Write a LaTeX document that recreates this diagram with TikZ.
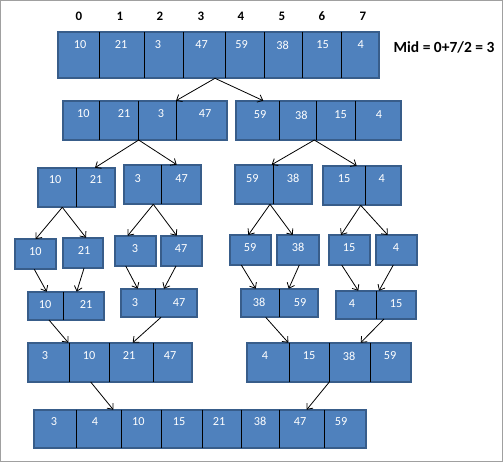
\documentclass[tikz,border=0pt]{standalone}
\usepackage{fontspec}
\setmainfont{Carlito}
\usetikzlibrary{fit,arrows.meta}
\definecolor{boxfill}{HTML}{4F81BD}
\definecolor{boxborder}{HTML}{385D8A}
\definecolor{framegrey}{HTML}{A0A0A0}
\newcommand\mydividers[2]{\foreach \xx in {#2} \draw[divline] (#1.north -| \xx,0) -- (#1.south -| \xx,0);}
\begin{document}
\begin{tikzpicture}[x=0.75pt,y=-0.75pt,
  box/.style={draw=boxborder, fill=boxfill, line width=1.4pt, inner sep=0pt, outer sep=0pt},
  divline/.style={draw=black, line width=0.8pt},
  num/.style={text=white, font=\fontsize{9.2}{10}\selectfont, inner sep=0pt},
  idx/.style={text=black, font=\fontsize{9.7}{10}\selectfont\bfseries, inner sep=0pt},
  arr/.style={draw=black, line width=0.6pt, -{Straight Barb[length=3.5pt,width=6pt]}}]
\useasboundingbox (0,0) rectangle (503,462);
\draw[framegrey, line width=1pt] (0.7,0.7) rectangle (502.3,461.3);

% row 1
\node[box, fit={(57.7,31.7) (379.3,78.3)}] (r1) {};
\mydividers{r1}{99.3,144.3,183.3,225.7,264.3,302.3,341.7}
\foreach \x/\t [count=\i] in {80/10,121/21,158/3,201.7/47,241.7/59,282.7/38,322.7/15,360.7/4}
  \node[num] (r1t\i) at (\x,45) {\t};
\foreach \x/\t [count=\i] in {79/0,120/1,160/2,201/3,241/4,282/5,322/6,363/7}
  \node[idx] (ix\i) at (\x,16) {\t};
\node[idx, font=\fontsize{11.6}{13}\selectfont\bfseries] (mid) at (444,47.7) {Mid = 0+7/2 = 3};

% row 2
\node[box, fit={(62.7,100.7) (227.3,140)}] (r2a) {};
\mydividers{r2a}{99.3,138.7,176.7}
\foreach \x/\t [count=\i] in {83.3/10,124/21,161/3,205/47}
  \node[num] (r2at\i) at (\x,113.3) {\t};
\node[box, fit={(236.3,100.7) (401,140)}] (r2b) {};
\mydividers{r2b}{279.3,316.7,355.7}
\foreach \x/\t [count=\i] in {260/59,301.3/38,340.7/15,379/4}
  \node[num] (r2bt\i) at (\x,115) {\t};

% row 3
\node[box, fit={(37.7,167.7) (115.3,207.3)}] (r3a) {};
\mydividers{r3a}{76.7}
\node[num] (r3at1) at (55,180) {10};
\node[num] (r3at2) at (96,180) {21};
\node[box, fit={(123.7,164.7) (201.3,204.3)}] (r3b) {};
\mydividers{r3b}{161.7}
\node[num] (r3bt1) at (137.7,179) {3};
\node[num] (r3bt2) at (181.7,179) {47};
\node[box, fit={(234.7,164.7) (312.3,204.3)}] (r3c) {};
\mydividers{r3c}{273.7}
\node[num] (r3ct1) at (252.3,178.3) {59};
\node[num] (r3ct2) at (293,178.3) {38};
\node[box, fit={(323.3,165.7) (401,205.3)}] (r3d) {};
\mydividers{r3d}{365.7}
\node[num] (r3dt1) at (344,178.3) {15};
\node[num] (r3dt2) at (381.7,178.3) {4};

% row 4
\node[box, fit={(14.7,239) (56,269.3)}] (r4a) {};
\node[num] (r4at) at (35.3,251.7) {10};
\node[box, fit={(62.7,237.7) (103.3,268.3)}] (r4b) {};
\node[num] (r4bt) at (84,251) {21};
\node[box, fit={(114.7,235.7) (156.3,266)}] (r4c) {};
\node[num] (r4ct) at (135,249) {3};
\node[box, fit={(160.7,235.7) (202.3,266)}] (r4d) {};
\node[num] (r4dt) at (181,249) {47};
\node[box, fit={(229.7,235) (271.3,265)}] (r4e) {};
\node[num] (r4et) at (250,247.7) {59};
\node[box, fit={(277.3,235) (319,265)}] (r4f) {};
\node[num] (r4ft) at (298,247.7) {38};
\node[box, fit={(328.7,235) (370,265)}] (r4g) {};
\node[num] (r4gt) at (349,247.7) {15};
\node[box, fit={(375.7,235) (417,265)}] (r4h) {};
\node[num] (r4ht) at (396,247.7) {4};

% row 5
\node[box, fit={(27.7,291.7) (104.3,320)}] (r5a) {};
\mydividers{r5a}{63.3}
\node[num] (r5at1) at (45,305) {10};
\node[num] (r5at2) at (86,305) {21};
\node[box, fit={(120.7,288.7) (197.3,317.3)}] (r5b) {};
\mydividers{r5b}{155.7}
\node[num] (r5bt1) at (135,302.7) {3};
\node[num] (r5bt2) at (179,302.7) {47};
\node[box, fit={(240.7,288.7) (318.3,317.3)}] (r5c) {};
\mydividers{r5c}{279.3}
\node[num] (r5ct1) at (259,302.7) {38};
\node[num] (r5ct2) at (300,302.7) {59};
\node[box, fit={(335.7,290.7) (416.3,319)}] (r5d) {};
\mydividers{r5d}{376.7}
\node[num] (r5dt1) at (352,304) {4};
\node[num] (r5dt2) at (396,304) {15};

% row 6
\node[box, fit={(27.7,342.7) (192.3,382)}] (r6a) {};
\mydividers{r6a}{69.3,109.3,153.3}
\foreach \x/\t [count=\i] in {45/3,89/10,129/21,170/47}
  \node[num] (r6at\i) at (\x,356) {\t};
\node[box, fit={(246.7,342.7) (411.3,382)}] (r6b) {};
\mydividers{r6b}{289.3,329.3,370.3}
\foreach \x/\t [count=\i] in {265/4,309/15,349/38,390/59}
  \node[num] (r6bt\i) at (\x,356) {\t};

% row 7
\node[box, fit={(33.7,409.7) (366.3,447.7)}] (r7) {};
\mydividers{r7}{76.7,121.3,161.7,202.3,241.3,279.3,324.3}
\foreach \x/\t [count=\i] in {54/3,95/4,138.3/10,179/15,219/21,260/38,300/47,341/59}
  \node[num] (r7t\i) at (\x,421.7) {\t};

% arrows
\draw[arr] (r1.south -| 215,0) -- (r2a.north -| 176,0);
\draw[arr] (r1.south -| 215,0) -- (r2b.north -| 263.3,0);
\draw[arr] (r2a.south -| 138.7,0) -- (r3a.north -| 95,0);
\draw[arr] (r2a.south -| 138.7,0) -- (r3b.north -| 176.7,0);
\draw[arr] (r2b.south -| 314.3,0) -- (r3c.north -| 271.7,0);
\draw[arr] (r2b.south -| 314.3,0) -- (r3d.north -| 356.7,0);
\draw[arr] (r3a.south -| 62.3,0) -- (r4a.north -| 35.7,0);
\draw[arr] (r3a.south -| 62.3,0) -- (r4b.north -| 86,0);
\draw[arr] (r3b.south -| 153.3,0) -- (r4c.north -| 127.7,0);
\draw[arr] (r3b.south -| 153.3,0) -- (r4d.north -| 176.7,0);
\draw[arr] (r3c.south -| 270,0) -- (r4e.north -| 248.3,0);
\draw[arr] (r3c.south -| 270,0) -- (r4f.north -| 292.7,0);
\draw[arr] (r3d.south -| 360.7,0) -- (r4g.north -| 341,0);
\draw[arr] (r3d.south -| 360.7,0) -- (r4h.north -| 387.7,0);
\draw[arr] (r4a.south -| 34.3,0) -- (r5a.north -| 46.7,0);
\draw[arr] (r4b.south -| 84,0) -- (r5a.north -| 76.7,0);
\draw[arr] (r4c.south -| 125.7,0) -- (r5b.north -| 137.7,0);
\draw[arr] (r4d.south -| 176,0) -- (r5b.north -| 164,0);
\draw[arr] (r4e.south -| 241.3,0) -- (r5c.north -| 255.7,0);
\draw[arr] (r4f.south -| 299.3,0) -- (r5c.north -| 288.7,0);
\draw[arr] (r4g.south -| 341.7,0) -- (r5d.north -| 358.3,0);
\draw[arr] (r4h.south -| 393.3,0) -- (r5d.north -| 379,0);
\draw[arr] (r5a.south -| 49,0) -- (r6a.north -| 68.3,0);
\draw[arr] (r5b.south -| 161,0) -- (r6a.north -| 132.7,0);
\draw[arr] (r5c.south -| 265.7,0) -- (r6b.north -| 288.3,0);
\draw[arr] (r5d.south -| 384,0) -- (r6b.north -| 360.7,0);
\draw[arr] (r6a.south -| 90.7,0) -- (r7.north -| 113.3,0);
\draw[arr] (r6b.south -| 329.3,0) -- (r7.north -| 306.7,0);
\end{tikzpicture}
\end{document}
